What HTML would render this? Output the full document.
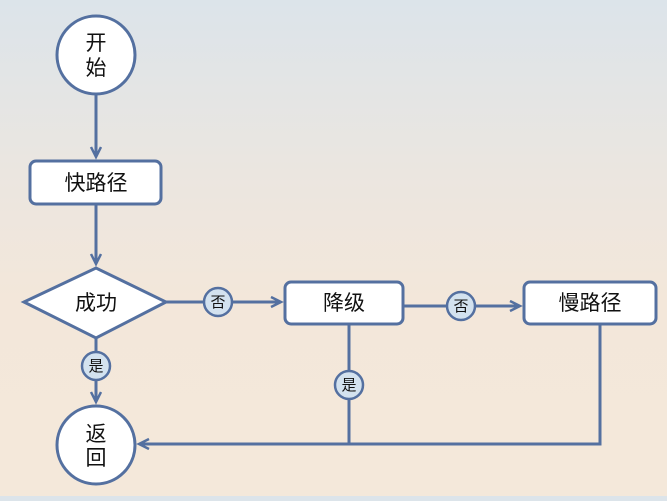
<!DOCTYPE html>
<html><head><meta charset="utf-8"><style>
html,body{margin:0;padding:0}
body{width:667px;height:496px;overflow:hidden;background:linear-gradient(#dce4ea 0%,#ebe6e0 35%,#f3e7da 60%,#f4e8da 100%)}
text{font-family:"Liberation Sans","Noto Sans CJK SC",sans-serif;fill:#111}
</style></head><body>
<svg width="667" height="496" viewBox="0 0 667 496">
<defs><marker id="a" markerWidth="14" markerHeight="14" refX="11" refY="6" orient="auto" markerUnits="userSpaceOnUse">
<path d="M1,1 L11,6 L1,11" fill="none" stroke="#5470a0" stroke-width="2.5"/></marker></defs>
<g stroke="#5470a0" stroke-width="3" fill="none">
<line x1="96" y1="95" x2="96" y2="157" marker-end="url(#a)"/>
<line x1="96" y1="204" x2="96" y2="264" marker-end="url(#a)"/>
<line x1="96" y1="338" x2="96" y2="402" marker-end="url(#a)"/>
<line x1="166" y1="302" x2="281" y2="302" marker-end="url(#a)"/>
<line x1="403" y1="306" x2="520" y2="306" marker-end="url(#a)"/>
<polyline points="349,324 349,444"/>
<polyline points="600,324 600,444 139,444" marker-end="url(#a)"/>
</g>
<g stroke="#5470a0" stroke-width="3" fill="#fff">
<circle cx="96" cy="55" r="39"/>
<rect x="30" y="161" width="131" height="43" rx="6"/>
<polygon points="24,302 96,268 166,302 96,338"/>
<circle cx="96" cy="445" r="39"/>
<rect x="285" y="282" width="118" height="42" rx="6"/>
<rect x="524" y="282" width="132" height="42" rx="6"/>
</g>
<g stroke="#5470a0" stroke-width="2.5" fill="#d3e2ef">
<circle cx="96" cy="366" r="14"/>
<circle cx="218" cy="302" r="14"/>
<circle cx="461" cy="306" r="14"/>
<circle cx="349" cy="385" r="14"/>
</g>
<g text-anchor="middle" font-size="21">
<text x="96" y="50">开</text><text x="96" y="75">始</text>
<text x="96" y="190">快路径</text>
<text x="96" y="310">成功</text>
<text x="96" y="441">返</text><text x="96" y="465">回</text>
<text x="344" y="310">降级</text>
<text x="590" y="310">慢路径</text>
</g>
<g text-anchor="middle" font-size="15">
<text x="96" y="371">是</text><text x="218" y="307">否</text>
<text x="461" y="311">否</text><text x="349" y="390">是</text>
</g>
</svg>
</body></html>
